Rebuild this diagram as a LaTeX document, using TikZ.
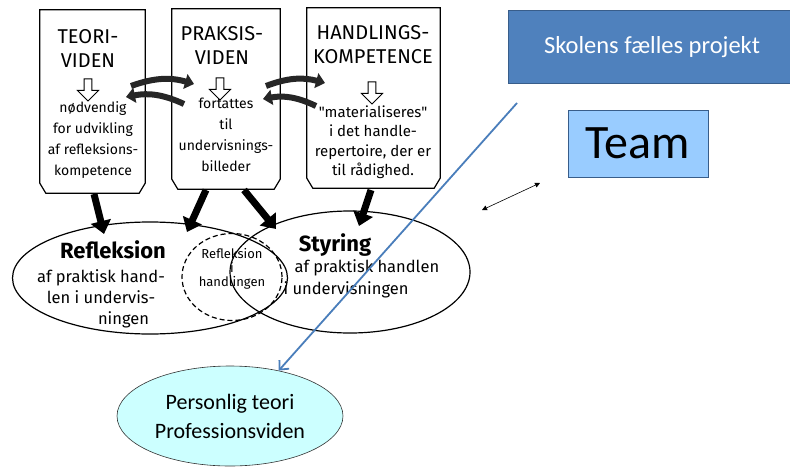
\documentclass[tikz,border=0pt]{standalone}
\usepackage{fontspec}
\setmainfont{Carlito}
\newfontfamily\hand{Fira Sans}
\usetikzlibrary{arrows.meta,shapes.geometric,shapes.arrows}
\definecolor{offblue}{RGB}{79,129,189}
\definecolor{offborder}{RGB}{56,93,138}
\definecolor{teamblue}{RGB}{153,204,255}
\definecolor{ellcyan}{RGB}{204,255,255}
\definecolor{linkblue}{RGB}{74,126,187}
\tikzset{
  handline/.style={line width=1.2pt, black},
  hbox/.style={draw=none, minimum width=#1, inner sep=0pt},
  title/.style={font=\hand\fontsize{20}{24}\selectfont, align=center},
  body/.style={font=\hand\fontsize{14}{21}\selectfont, align=center},
  hollow/.style={single arrow, draw, line width=1pt, fill=white, minimum height=22pt, minimum width=21pt,
     single arrow head extend=5pt, single arrow tip angle=90, shape border rotate=270, inner sep=2.5pt},
  swap/.style={line width=6pt, -{Triangle[length=9pt,width=15pt]}, black!85},
  down/.style={line width=7pt, -{Triangle[length=13pt,width=20pt]}, black},
  hell/.style={ellipse, draw, line width=1.2pt, inner sep=0pt},
  reftext/.style={font=\hand\fontsize{16.5}{21}\selectfont, align=center},
  bigtext/.style={font=\hand\bfseries\fontsize{22}{24}\selectfont},
}
\begin{document}
\begin{tikzpicture}[x=1pt,y=-1pt]
\useasboundingbox[fill=white] (0,0) rectangle (790,466);

% hand-drawn boxes (invisible node frames)
\node[hbox=105pt, minimum height=183pt] (b1) at (92.5,101.5) {};
\node[hbox=108pt, minimum height=180pt] (b2) at (226,99) {};
\node[hbox=133pt, minimum height=180pt] (b3) at (373.5,98) {};
\foreach \b in {b1,b2,b3}{
  \draw[handline] (\b.north west) -- ([yshift=10pt]\b.south west) -- ([xshift=6pt]\b.south west)
     -- ([xshift=-6pt]\b.south east) -- ([yshift=10pt]\b.south east) -- (\b.north east) -- cycle;
}

% box texts
\node[title] (t1) at (88,48) {TEORI-\\VIDEN};
\node[title] (t2) at (222,45) {PRAKSIS-\\VIDEN};
\node[title] (t3) at (373,45) {HANDLINGS-\\KOMPETENCE};
\node[hollow] (h1) at (88,88) {};
\node[hollow] (h2) at (220,87) {};
\node[hollow] (h3) at (372,91) {};
\node[body] (x1) at (93,140) {nødvendig\\for udvikling\\af refleksions-\\kompetence};
\node[body] (x2) at (226,135) {fortattes\\til\\undervisnings-\\billeder};
\node[body, font=\hand\fontsize{15}{19.5}\selectfont] (x3) at (373,142) {"materialiseres"\\i det handle-\\repertoire, der er\\til rådighed.};

% exchange arrows between boxes
\coordinate (a1s) at (131,86); \coordinate (a1e) at (194,84);
\coordinate (a2s) at (184,104); \coordinate (a2e) at (126,97);
\coordinate (a3s) at (266,86); \coordinate (a3e) at (325,83);
\coordinate (a4s) at (316,106); \coordinate (a4e) at (263,99);
\draw[swap] (a1s) to[bend left=18] (a1e);
\draw[swap] (a2s) to[bend right=18] (a2e);
\draw[swap] (a3s) to[bend left=18] (a3e);
\draw[swap] (a4s) to[bend right=18] (a4e);

% ellipses
\node[hell, minimum width=275pt, minimum height=112pt] (refl) at (150,278) {};
\node[hell, minimum width=240pt, minimum height=122pt] (styr) at (350,272) {};
\node[hell, dashed, dash pattern=on 5pt off 3pt, minimum width=100pt, minimum height=87pt] (rih) at (232,277) {};

% thick arrows down
\coordinate (d1s) at (94,194); \coordinate (d1e) at (104,234);
\coordinate (d2s) at (206,190); \coordinate (d2e) at (187,232);
\coordinate (d3s) at (244,190); \coordinate (d3e) at (276,229);
\coordinate (d4s) at (371,190); \coordinate (d4e) at (359,226);
\draw[down] (d1s) -- (d1e);
\draw[down] (d2s) -- (d2e);
\draw[down] (d3s) -- (d3e);
\draw[down] (d4s) -- (d4e);

% ellipse texts
\node[bigtext] (rt) at (113,250) {Refleksion};
\node[reftext] (rb) at (101,299) {af praktisk hand-\\len i undervis-\\\hspace*{45pt}ningen};
\node[font=\hand\fontsize{13}{14}\selectfont, align=center, inner sep=1pt] (mt) at (232,269) {Refleksion\\i\\handlingen};
\node[bigtext] (st) at (335,245) {Styring};
\node[reftext, anchor=west] (sb1) at (291,268) {af praktisk handlen};
\node[reftext, anchor=west] (sb2) at (280,290) {i undervisningen};

% office parts
\node[draw=offborder, line width=1.2pt, fill=offblue, text=white, minimum width=290pt, minimum height=73pt,
  anchor=north west, inner sep=0pt] (skol) at (508,10) {};
\node[text=white, font=\fontsize{24.5}{26}\selectfont] (skt) at (652,47) {Skolens fælles projekt};
\node[draw=offborder, line width=0.8pt, fill=teamblue, minimum width=140pt, minimum height=67pt, inner sep=0pt,
  font=\fontsize{48}{48}\selectfont] (team) at (638,143.5) {Team};
\node[ellipse, draw=black!80, line width=0.6pt, fill=ellcyan, minimum width=226pt, minimum height=100pt,
  inner sep=0pt, align=center, font=\fontsize{22}{29}\selectfont] (pers) at (230,416) {Personlig teori\\Professionsviden};

\coordinate (ls) at (517,103);
\draw[linkblue, line width=1.8pt, -{Straight Barb[length=7pt,width=13pt]}] (ls) -- (pers.43);
\coordinate (ta) at (482,210); \coordinate (tb) at (540,183);
\draw[black, line width=0.6pt, {Triangle[length=5pt,width=5pt]}-{Triangle[length=5pt,width=5pt]}] (ta) -- (tb);
\end{tikzpicture}
\end{document}
